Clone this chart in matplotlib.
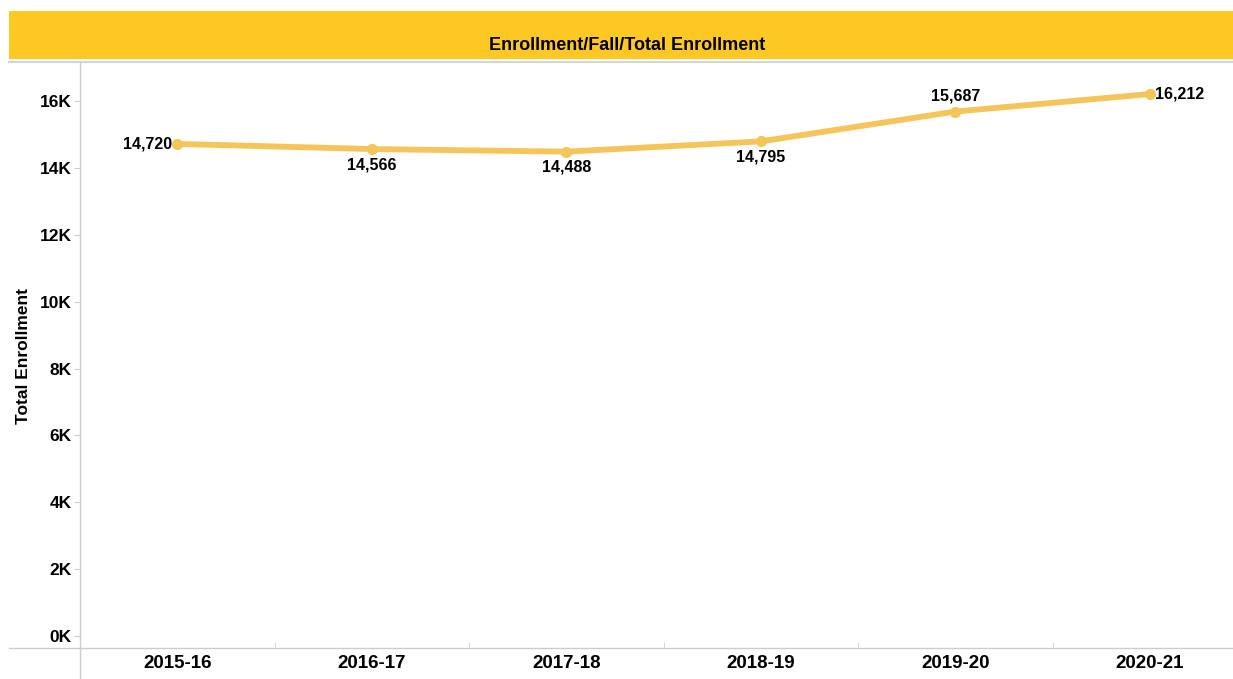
import matplotlib.pyplot as plt
from matplotlib.patches import Rectangle
from matplotlib.lines import Line2D

# datos del grafico
years = ["2015-16", "2016-17", "2017-18", "2018-19", "2019-20", "2020-21"]
enrollment = [14720, 14566, 14488, 14795, 15687, 16212]
label_pos = ["left", "below", "below", "below", "above", "right"]
y_ticks = [0, 2000, 4000, 6000, 8000, 10000, 12000, 14000, 16000]

plt.rcParams['font.family'] = ['Liberation Sans', 'DejaVu Sans']

W, H = 1233, 679
fig = plt.figure(figsize=(W / 100, H / 100), dpi=100)

# banda amarilla del titulo
fig.add_artist(Rectangle((9 / W, 1 - 59 / H), 1 - 9 / W, 48 / H,
                         transform=fig.transFigure, color="#FDC823", lw=0))
fig.text(627 / W, 1 - 46 / H, "Enrollment/Fall/Total Enrollment",
         ha="center", va="center", fontsize=13, fontweight="bold")
fig.add_artist(Line2D([9 / W, 1], [1 - 62 / H, 1 - 62 / H],
                      transform=fig.transFigure, color="#d4d4d4", lw=1.5))

# ejes
left, right = 80, 1247
bottom, top = 648, 63
ax = fig.add_axes([left / W, 1 - bottom / H, (right - left) / W, (bottom - top) / H])
ax.set_xlim(-0.5, len(years) - 0.5)
ax.set_ylim(-359, 17140)

x = list(range(len(years)))
ax.plot(x, enrollment, color="#F5C55A", lw=4.2, marker="o", ms=7,
        solid_capstyle="round", zorder=3)

lab_fs = 11.5
for xi, v, pos in zip(x, enrollment, label_pos):
    txt = f"{v:,}"
    if pos == "left":
        ax.annotate(txt, (xi, v), xytext=(-4, 0), textcoords="offset points",
                    ha="right", va="center", fontsize=lab_fs, fontweight="bold")
    elif pos == "right":
        ax.annotate(txt, (xi, v), xytext=(4, 0), textcoords="offset points",
                    ha="left", va="center", fontsize=lab_fs, fontweight="bold")
    elif pos == "below":
        ax.annotate(txt, (xi, v), xytext=(0, -6), textcoords="offset points",
                    ha="center", va="top", fontsize=lab_fs, fontweight="bold")
    else:
        ax.annotate(txt, (xi, v), xytext=(0, 6), textcoords="offset points",
                    ha="center", va="bottom", fontsize=lab_fs, fontweight="bold")

ax.set_yticks(y_ticks)
ax.set_yticklabels([f"{t // 1000}K" for t in y_ticks], fontsize=12.5, fontweight="bold")
ax.set_xticks(x)
ax.set_xticklabels(years, fontsize=13.5, fontweight="bold")
ax.set_xticks([i + 0.5 for i in range(len(years) - 1)], minor=True)
ax.tick_params(axis="x", which="major", length=0, pad=5)
ax.tick_params(axis="x", which="minor", length=4, color="#cccccc", direction="in")
ax.tick_params(axis="y", length=4, color="#cccccc", pad=2)

ax.set_ylabel("Total Enrollment", fontsize=12.5, fontweight="bold", labelpad=6)

for s in ["top", "right", "left", "bottom"]:
    ax.spines[s].set_visible(False)

# lineas de eje que salen del area
fig.add_artist(Line2D([9 / W, 1], [1 - bottom / H, 1 - bottom / H],
                      transform=fig.transFigure, color="#cccccc", lw=1))
fig.add_artist(Line2D([left / W, left / W], [0, 1 - top / H],
                      transform=fig.transFigure, color="#cccccc", lw=1))

fig.savefig("out.png", dpi=100)
